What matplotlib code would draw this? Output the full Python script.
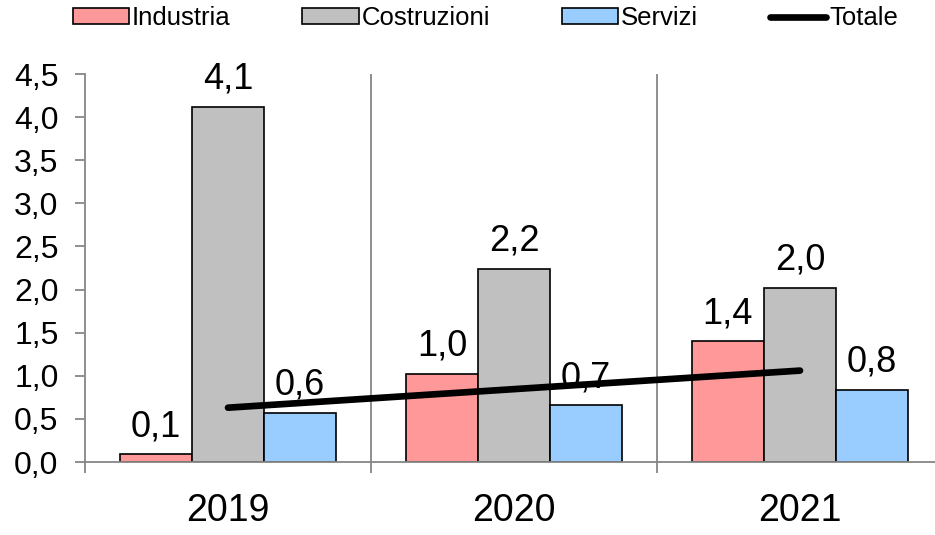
import matplotlib.pyplot as plt
from matplotlib.ticker import FixedLocator

plt.rcParams['font.family'] = ['Liberation Sans', 'DejaVu Sans']

anni = ["2019", "2020", "2021"]
industria = [0.09, 1.02, 1.40]
costruzioni = [4.12, 2.24, 2.02]
servizi = [0.57, 0.66, 0.84]
totale = [0.63, 0.845, 1.06]

serie = [("Industria", industria, "#FF9999"),
         ("Costruzioni", costruzioni, "#C0C0C0"),
         ("Servizi", servizi, "#99CCFF")]

grigio = "#868686"
larghezza = 0.252

fig = plt.figure(figsize=(9.35, 5.35), dpi=100)
ax = fig.add_axes([85 / 935, 73 / 535, 850 / 935, 388 / 535])

x = list(range(len(anni)))
maniglie = []
for i, (nome, valori, colore) in enumerate(serie):
    pos = [xi + (i - 1) * larghezza for xi in x]
    barre = ax.bar(pos, valori, width=larghezza, color=colore,
                   edgecolor="black", linewidth=1.2, label=nome, zorder=2)
    maniglie.append(barre)
    for p, v in zip(pos, valori):
        ax.annotate(f"{v:.1f}".replace(".", ","), (p, v),
                    xytext=(0, 13), textcoords="offset points",
                    ha="center", va="baseline", fontsize=26)

linea, = ax.plot(x, totale, color="black", linewidth=4.8,
                 solid_capstyle="round", label="Totale", zorder=3)
maniglie.append(linea)

for b in [0.5, 1.5]:
    ax.axvline(b, color=grigio, linewidth=1.3, zorder=1)

ax.set_xlim(-0.5, (935 - 228) / 286)
ax.set_ylim(0, 4.5)
ax.set_yticks([i * 0.5 for i in range(10)])
ax.set_yticklabels([f"{i * 0.5:.1f}".replace(".", ",") for i in range(10)],
                   fontsize=23)
ax.set_xticks(x)
ax.set_xticklabels(anni, fontsize=27)
ax.xaxis.set_minor_locator(FixedLocator([-0.5, 0.5, 1.5]))
ax.tick_params(axis="x", which="major", length=0, pad=22)
ax.tick_params(axis="x", which="minor", length=8, width=1.3, color=grigio)
ax.tick_params(axis="y", length=7, width=1.3, color=grigio, pad=12)

for lato in ["top", "right"]:
    ax.spines[lato].set_visible(False)
for lato in ["left", "bottom"]:
    ax.spines[lato].set_color(grigio)
    ax.spines[lato].set_linewidth(1.3)
    ax.spines[lato].set_zorder(4)

fig.legend(handles=maniglie, loc="center", bbox_to_anchor=(0.519, 1 - 18 / 535),
           ncol=4, frameon=False, fontsize=18.5, handlelength=2.2,
           handleheight=0.55, handletextpad=0.1, columnspacing=2.8)

fig.savefig("out.png", dpi=100)
